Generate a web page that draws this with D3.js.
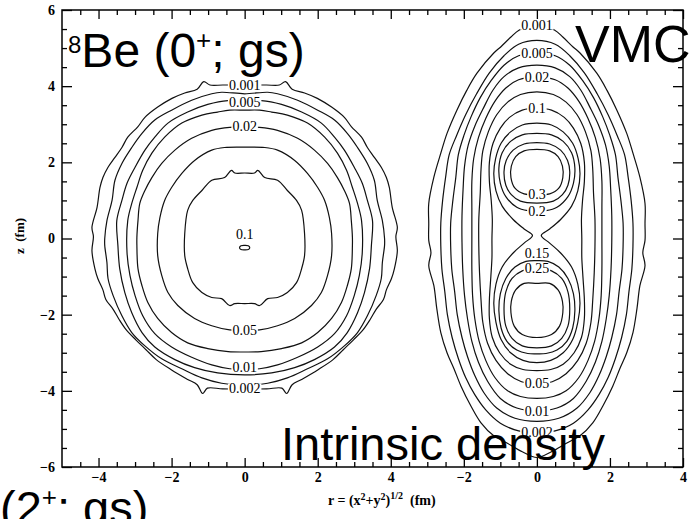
<!DOCTYPE html>
<html><head><meta charset="utf-8">
<script src="https://cdn.jsdelivr.net/npm/d3@7"></script>
<style>
body{margin:0;background:#fff;}
svg{display:block;}
</style></head><body>
<svg id="chart" width="696" height="519"></svg>
<script>
// ---- data: contour outlines as [r, z] points (fm), right half, top -> bottom; mirrored to r<0 ----
const leftContours = [
  {level: 0.001, pts: [[0,4.03],[0.6,4.03],[0.95,4.03],[1.12,4.12],[1.3,3.92],[1.64,3.82],[1.99,3.68],[2.38,3.45],[2.73,3.18],[2.92,2.94],[3.2,2.66],[3.36,2.39],[3.55,2.13],[3.74,1.87],[3.88,1.6],[3.96,1.34],[4.04,0.82],[4.18,0.29],[4.14,0.05],[4.18,-0.32],[4.1,-0.79],[4.02,-1.05],[3.88,-1.35],[3.8,-1.6],[3.6,-1.86],[3.44,-2.12],[3.24,-2.4],[2.98,-2.66],[2.7,-2.92],[2.42,-3.18],[2.0,-3.45],[1.56,-3.7],[1.3,-3.84],[1.15,-4.07],[1.02,-3.93],[0.6,-3.95],[0,-3.95]]},
  {level: 0.002, pts: [[0,3.8],[0.63,3.84],[0.9,3.8],[1.45,3.63],[2.0,3.37],[2.46,3.11],[2.81,2.76],[3.09,2.39],[3.36,1.97],[3.55,1.53],[3.63,1.0],[3.77,0.47],[3.83,0],[3.83,-0.18],[3.77,-0.63],[3.74,-1.05],[3.6,-1.5],[3.36,-2.03],[3.09,-2.47],[2.73,-2.82],[2.27,-3.16],[1.72,-3.42],[1.17,-3.66],[0.63,-3.8],[0,-3.85]]},
  {level: 0.005, pts: [[0,3.6],[0.46,3.62],[1.01,3.52],[1.56,3.32],[2.1,3.03],[2.46,2.66],[2.73,2.32],[3.0,1.87],[3.22,1.45],[3.36,1.0],[3.5,0.47],[3.47,-0.18],[3.42,-0.79],[3.28,-1.42],[3.09,-1.95],[2.81,-2.47],[2.46,-2.85],[1.91,-3.18],[1.37,-3.39],[0.74,-3.53],[0,-3.58]]},
  {level: 0.01, pts: [[0,3.37],[0.41,3.37],[0.74,3.32],[1.17,3.24],[1.72,3.03],[2.19,2.66],[2.54,2.24],[2.79,1.79],[2.95,1.34],[3.09,0.92],[3.2,0.47],[3.22,-0.37],[3.14,-0.97],[3.0,-1.5],[2.79,-2.03],[2.46,-2.5],[2.0,-2.85],[1.45,-3.12],[0.9,-3.32],[0.41,-3.42],[0,-3.43]]},
  {level: 0.02, pts: [[0,2.93],[0.41,2.92],[0.9,2.84],[1.45,2.63],[1.91,2.32],[2.27,1.97],[2.54,1.6],[2.73,1.26],[2.87,0.92],[2.92,0.47],[2.95,0.03],[2.95,-0.18],[2.92,-0.79],[2.81,-1.24],[2.65,-1.68],[2.38,-2.1],[2.0,-2.47],[1.56,-2.74],[1.01,-2.89],[0.45,-2.97],[0,-2.98]]},
  {level: 0.05, pts: [[0,2.4],[0.55,2.39],[0.9,2.32],[1.37,2.05],[1.72,1.71],[2.0,1.34],[2.19,1.0],[2.32,0.55],[2.38,0.13],[2.38,-0.45],[2.27,-0.97],[2.1,-1.42],[1.83,-1.76],[1.37,-2.1],[0.9,-2.29],[0.41,-2.4],[0,-2.42]]},
  {level: 0.08, pts: [[0,1.72],[0.27,1.72],[0.36,1.79],[0.55,1.6],[0.9,1.53],[1.17,1.26],[1.42,1.0],[1.56,0.74],[1.64,0.13],[1.64,-0.45],[1.56,-0.79],[1.42,-1.16],[1.17,-1.42],[0.9,-1.55],[0.63,-1.58],[0.41,-1.76],[0.27,-1.71],[0,-1.71]]},
  {level: 0.1, pts: [[0,-0.18],[0.1,-0.19],[0.14,-0.24],[0.1,-0.29],[0,-0.3]]}
];
const leftLabels = [
  {text: "0.001", r: 0, z: 4.03}, {text: "0.005", r: 0, z: 3.58}, {text: "0.02", r: 0, z: 2.93},
  {text: "0.1", r: 0, z: 0.1}, {text: "0.05", r: 0, z: -2.42}, {text: "0.01", r: 0, z: -3.4},
  {text: "0.002", r: 0, z: -3.93}
];

const rightContours = [
  {level: 0.001, pts: [[0,5.62],[0.49,5.47],[0.71,5.29],[0.99,5.03],[1.18,4.87],[1.64,4.34],[1.92,3.89],[2.19,3.37],[2.46,2.76],[2.63,2.24],[2.82,1.61],[2.96,0.92],[2.96,0.39],[2.96,-0.05],[2.9,-0.37],[2.96,-0.71],[2.82,-1.24],[2.74,-1.84],[2.63,-2.47],[2.46,-3.0],[2.27,-3.42],[2.08,-3.87],[1.81,-4.39],[1.53,-4.84],[1.18,-5.18],[0.82,-5.37],[0.4,-5.6],[0,-5.75]]},
  {level: 0.002, pts: [[0,5.2],[0.5,5.1],[0.9,4.8],[1.3,4.35],[1.65,3.8],[1.95,3.25],[2.2,2.7],[2.4,2.2],[2.5,1.6],[2.58,1.0],[2.63,0.4],[2.63,-0.2],[2.6,-0.8],[2.52,-1.4],[2.45,-2.0],[2.32,-2.6],[2.15,-3.15],[1.95,-3.65],[1.7,-4.1],[1.4,-4.5],[1.0,-4.85],[0.5,-5.05],[0,-5.1]]},
  {level: 0.005, pts: [[0,4.87],[0.5,4.8],[0.9,4.55],[1.25,4.15],[1.55,3.7],[1.8,3.2],[2.0,2.7],[2.15,2.2],[2.22,1.6],[2.3,1.0],[2.36,0.4],[2.36,-0.2],[2.33,-0.8],[2.25,-1.4],[2.18,-2.0],[2.05,-2.6],[1.9,-3.1],[1.7,-3.6],[1.45,-4.05],[1.1,-4.45],[0.6,-4.72],[0,-4.8]]},
  {level: 0.01, pts: [[0,4.55],[0.5,4.48],[0.9,4.25],[1.2,3.9],[1.45,3.45],[1.7,2.95],[1.88,2.45],[1.98,1.9],[2.02,1.3],[2.05,0.6],[2.05,-0.1],[2.03,-0.8],[1.98,-1.5],[1.9,-2.1],[1.78,-2.7],[1.6,-3.25],[1.35,-3.75],[1.0,-4.2],[0.55,-4.45],[0,-4.53]]},
  {level: 0.02, pts: [[0,4.24],[0.5,4.17],[0.85,3.95],[1.15,3.6],[1.4,3.15],[1.6,2.65],[1.73,2.1],[1.78,1.5],[1.78,0.8],[1.78,0.0],[1.78,-0.8],[1.76,-1.5],[1.7,-2.1],[1.58,-2.7],[1.4,-3.2],[1.15,-3.65],[0.8,-4.0],[0.45,-4.15],[0,-4.2]]},
  {level: 0.05, pts: [[0,3.85],[0.45,3.78],[0.8,3.58],[1.1,3.25],[1.33,2.8],[1.48,2.3],[1.53,1.8],[1.55,1.2],[1.59,0.5],[1.59,-0.2],[1.57,-0.9],[1.53,-1.6],[1.48,-2.2],[1.35,-2.75],[1.12,-3.2],[0.8,-3.55],[0.42,-3.76],[0,-3.82]]},
  {level: 0.1, pts: [[0,3.42],[0.4,3.37],[0.75,3.18],[1.0,2.9],[1.2,2.5],[1.3,2.0],[1.3,1.5],[1.25,1.0],[1.22,0.5],[1.23,0.0],[1.23,-0.5],[1.26,-1.0],[1.3,-1.6],[1.3,-2.1],[1.22,-2.6],[1.02,-3.0],[0.72,-3.3],[0.38,-3.44],[0,-3.47]]},
  {level: 0.15, pts: [[0,3.03],[0.4,2.98],[0.72,2.8],[0.98,2.5],[1.13,2.1],[1.18,1.7],[1.12,1.25],[0.95,0.85],[0.65,0.5],[0.35,0.25],[0.12,0.08],[0.35,-0.12],[0.65,-0.38],[0.95,-0.75],[1.12,-1.2],[1.18,-1.7],[1.12,-2.2],[0.98,-2.65],[0.72,-3.0],[0.38,-3.2],[0,-3.26]]},
  {level: 0.2, pts: [[0,2.76],[0.4,2.72],[0.72,2.55],[0.95,2.25],[1.04,1.85],[1.0,1.45],[0.85,1.1],[0.55,0.82],[0.25,0.73],[0,0.72]]},
  {level: 0.25, pts: [[0,2.52],[0.35,2.48],[0.65,2.32],[0.84,2.05],[0.9,1.75],[0.85,1.4],[0.7,1.15],[0.45,0.98],[0,0.93]]},
  {level: 0.3, pts: [[0,2.34],[0.35,2.3],[0.58,2.15],[0.7,1.9],[0.71,1.6],[0.6,1.32],[0.35,1.17],[0,1.15]]},
  {level: 0.2, pts: [[0,-0.58],[0.3,-0.6],[0.6,-0.75],[0.85,-1.05],[1.0,-1.45],[1.04,-1.9],[0.98,-2.35],[0.82,-2.7],[0.55,-2.93],[0.25,-3.02],[0,-3.03]]},
  {level: 0.25, pts: [[0,-0.8],[0.4,-0.85],[0.68,-1.05],[0.85,-1.4],[0.9,-1.85],[0.85,-2.3],[0.68,-2.62],[0.4,-2.82],[0,-2.87]]},
  {level: 0.3, pts: [[0,-1.18],[0.35,-1.18],[0.58,-1.35],[0.7,-1.65],[0.71,-1.95],[0.62,-2.3],[0.4,-2.52],[0,-2.6]]}
];
const rightLabels = [
  {text: "0.001", r: 0, z: 5.6}, {text: "0.005", r: 0, z: 4.87}, {text: "0.02", r: 0, z: 4.24},
  {text: "0.1", r: 0, z: 3.42}, {text: "0.3", r: 0, z: 1.16}, {text: "0.2", r: 0, z: 0.7},
  {text: "0.15", r: 0, z: -0.4}, {text: "0.25", r: 0, z: -0.79}, {text: "0.05", r: 0, z: -3.82},
  {text: "0.01", r: 0, z: -4.53}, {text: "0.002", r: 0, z: -5.1}
];

const leftTicks = [-4, -2, 0, 2, 4];
const rightTicks = [-2, 0, 2, 4];
const zTicks = [-6, -4, -2, 0, 2, 4, 6];

// ---- scales ----
const svg = d3.select("#chart");
const frameL = 62, frameR = 683, frameT = 10, frameB = 467;
const unit = (frameR - frameL) / 17;
const xL = d3.scaleLinear().domain([-5, 4]).range([frameL, frameL + 9 * unit]);
const xR = d3.scaleLinear().domain([-4, 4]).range([frameL + 9 * unit, frameR]);
const y = d3.scaleLinear().domain([-6, 6]).range([frameB, frameT]);

function ring(half) {
  const mirrored = half.slice(1, -1).reverse().map(([r, z]) => [-r, z]);
  return half.concat(mirrored);
}

const plot = svg.append("g");
function drawPanel(contours, labels, xs) {
  const line = d3.line().x(d => xs(d[0])).y(d => y(d[1])).curve(d3.curveCatmullRomClosed.alpha(0.5));
  plot.append("g").selectAll("path").data(contours).join("path")
    .attr("d", d => line(ring(d.pts)))
    .attr("fill", "none").attr("stroke", "#111").attr("stroke-width", 1.2);
  const lg = plot.append("g");
  labels.forEach(l => {
    const t = lg.append("text").attr("x", xs(l.r)).attr("y", y(l.z))
      .attr("text-anchor", "middle").attr("dominant-baseline", "central")
      .attr("font-family", "'Liberation Serif', 'DejaVu Serif', serif").attr("font-size", 14)
      .text(l.text);
    const b = t.node().getBBox();
    lg.insert("rect", () => t.node()).attr("x", b.x - 1).attr("y", b.y + 3).attr("width", b.width + 2).attr("height", b.height - 6).attr("fill", "#fff");
  });
}
drawPanel(leftContours, leftLabels, xL);
drawPanel(rightContours, rightLabels, xR);

// ---- axes ----
const axisFont = "'Liberation Serif', 'DejaVu Serif', serif";
function styleAxis(g) {
  g.select(".domain").remove();
  g.selectAll("line").attr("stroke", "#000").attr("stroke-width", 1.3);
  g.selectAll("text").attr("font-family", axisFont).attr("font-size", 14).attr("font-weight", "bold").attr("fill", "#000");
}
const minorL = d3.range(-4.5, 4, 0.5).filter(v => v % 2 !== 0);
const minorR = d3.range(-3.5, 4, 0.5).filter(v => v % 2 !== 0);
const minorZ = d3.range(-5.5, 6, 0.5).filter(v => v % 2 !== 0);

[[frameB, d3.axisBottom, true], [frameT, d3.axisTop, false]].forEach(([yy, ax, labelled]) => {
  svg.append("g").attr("transform", `translate(0,${yy})`)
    .call(ax(xL).tickValues(leftTicks).tickSize(-9).tickPadding(5).tickFormat(labelled ? d3.format("d") : ""))
    .call(styleAxis);
  svg.append("g").attr("transform", `translate(0,${yy})`)
    .call(ax(xR).tickValues(rightTicks).tickSize(-9).tickPadding(5).tickFormat(labelled ? d3.format("d") : ""))
    .call(styleAxis);
  svg.append("g").attr("transform", `translate(0,${yy})`)
    .call(ax(xL).tickValues(minorL).tickSize(-5).tickFormat("")).call(styleAxis);
  svg.append("g").attr("transform", `translate(0,${yy})`)
    .call(ax(xR).tickValues(minorR).tickSize(-5).tickFormat("")).call(styleAxis);
});
svg.append("g").attr("transform", `translate(${frameL},0)`)
  .call(d3.axisLeft(y).tickValues(zTicks).tickSize(-10).tickPadding(7).tickFormat(d3.format("d"))).call(styleAxis);
svg.append("g").attr("transform", `translate(${frameL},0)`)
  .call(d3.axisLeft(y).tickValues(minorZ).tickSize(-5).tickFormat("")).call(styleAxis);
svg.append("g").attr("transform", `translate(${frameR},0)`)
  .call(d3.axisRight(y).tickValues(zTicks).tickSize(-10).tickFormat("")).call(styleAxis);
svg.append("g").attr("transform", `translate(${frameR},0)`)
  .call(d3.axisRight(y).tickValues(minorZ).tickSize(-5).tickFormat("")).call(styleAxis);

svg.append("rect").attr("x", frameL).attr("y", frameT).attr("width", frameR - frameL).attr("height", frameB - frameT)
  .attr("fill", "none").attr("stroke", "#000").attr("stroke-width", 1.5);

// axis titles
svg.append("text").attr("transform", `translate(24,236) rotate(-90)`).attr("text-anchor", "middle")
  .attr("font-family", axisFont).attr("font-size", 13).attr("font-weight", "bold")
  .attr("xml:space", "preserve").text("z  (fm)");
const xt = svg.append("text").attr("x", 328).attr("y", 505).attr("xml:space", "preserve")
  .attr("font-family", axisFont).attr("font-size", 14).attr("font-weight", "bold");
xt.append("tspan").text("r = (x");
xt.append("tspan").attr("dy", -5).attr("font-size", 10).text("2");
xt.append("tspan").attr("dy", 5).text("+y");
xt.append("tspan").attr("dy", -5).attr("font-size", 10).text("2");
xt.append("tspan").attr("dy", 5).text(")");
xt.append("tspan").attr("dy", -6).attr("font-size", 10).text("1/2");
xt.append("tspan").attr("dy", 6).text("  (fm)");

// ---- slide captions ----
const sans = "'Liberation Sans', Arial, sans-serif";
const t1 = svg.append("text").attr("x", 68).attr("y", 67).attr("font-family", sans).attr("font-size", 48);
t1.append("tspan").attr("font-size", 24).attr("dy", -14).text("8");
t1.append("tspan").attr("dy", 14).text("Be (0");
t1.append("tspan").attr("font-size", 26).attr("dy", -18).text("+");
t1.append("tspan").attr("dy", 18).text("; gs)");

svg.append("text").attr("x", 575).attr("y", 62).attr("font-family", sans).attr("font-size", 52).text("VMC");
svg.append("text").attr("x", 281).attr("y", 460).attr("font-family", sans).attr("font-size", 47).text("Intrinsic density");
const t2 = svg.append("text").attr("x", 0).attr("y", 524).attr("font-family", sans).attr("font-size", 47);
t2.append("tspan").text("(2");
t2.append("tspan").attr("font-size", 26).attr("dy", -18).text("+");
t2.append("tspan").attr("dy", 18).text("; gs)");
</script></body></html>
